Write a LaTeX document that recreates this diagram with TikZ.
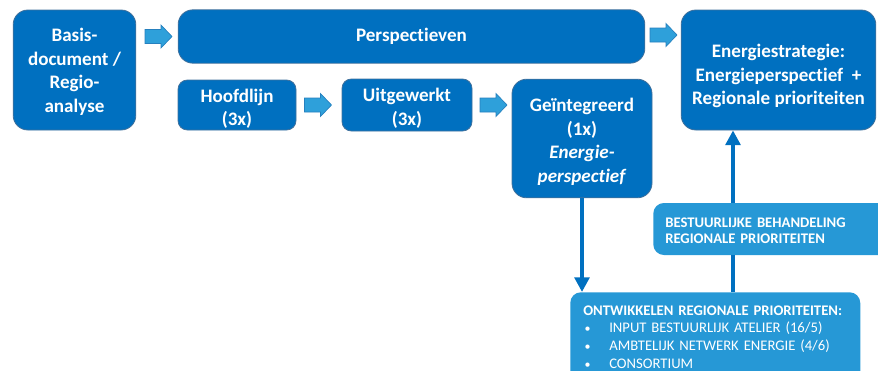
\documentclass[tikz,border=0pt]{standalone}
\usepackage{fontspec}
\setmainfont{Carlito}[Ligatures=NoCommon]
\usetikzlibrary{arrows.meta}

\definecolor{darkblue}{RGB}{0,112,192}
\definecolor{lightblue}{RGB}{38,152,214}
\definecolor{edgeblue}{RGB}{65,113,156}
\definecolor{arrowfill}{RGB}{46,160,218}
\definecolor{arrowedge}{RGB}{38,128,190}

\newcommand{\lowstrut}[1]{\rule{0pt}{#1}}

\tikzset{
  darkbox/.style={fill=darkblue,draw=edgeblue,line width=0.6pt,rounded corners=11pt,
    text=white,font=\bfseries\fontsize{14.3}{17.6}\selectfont,align=center,inner sep=0pt},
  smallbox/.style={darkbox,rounded corners=7pt},
  lightbox/.style={fill=lightblue,draw=none,rounded corners=8pt,text=white,
    font=\fontsize{11}{12.3}\selectfont,align=left,inner xsep=9pt,inner ysep=0pt},
  blockarrow/.pic={
    \filldraw[fill=arrowfill,draw=arrowedge,line width=0.5pt]
      (-13.5,-7) -- (2.5,-7) -- (2.5,-11.5) -- (13.5,0) -- (2.5,11.5) -- (2.5,7) -- (-13.5,7) -- cycle;
  },
  link/.style={draw=darkblue,line width=3pt},
}

\begin{document}
\begin{tikzpicture}[x=0.75pt,y=-0.75pt]
\useasboundingbox (0,0) rectangle (878,371);

\node[darkbox,minimum width=92pt,minimum height=90pt] (basis) at (74.5,70)
  {\lowstrut{13pt}Basis-\\document /\\Regio-\\analyse};
\node[darkbox,minimum width=350pt,minimum height=40pt] (persp) at (411.5,36.5) {Perspectieven};
\node[darkbox,minimum width=146pt,minimum height=90pt] (strategie) at (778.5,70)
  {\lowstrut{19.5pt}Energiestrategie:\\Energieperspectief \ +\\Regionale prioriteiten};

\node[smallbox,minimum width=88.5pt,minimum height=37.5pt] (hoofdlijn) at (237,105) {\lowstrut{15.5pt}Hoofdlijn\\(3x)};
\node[smallbox,minimum width=97.5pt,minimum height=39pt] (uitgewerkt) at (407,105) {\lowstrut{15pt}Uitgewerkt\\(3x)};
\node[darkbox,minimum width=105pt,minimum height=89pt] (geintegreerd) at (582,138.5)
  {\lowstrut{15pt}Geïntegreerd\\(1x)\\\textit{Energie-}\\\textit{perspectief}};

% block arrows
\pic (a1) at (158.5,36.5) {blockarrow};
\pic (a2) at (663.5,35) {blockarrow};
\pic (a3) at (318,105) {blockarrow};
\pic (a4) at (493.5,105) {blockarrow};

\node[lightbox,anchor=west,minimum width=183pt,minimum height=39pt,text width=170pt] (bestuur) at (653,229)
  {\lowstrut{10pt}\textbf{BESTUURLIJKE BEHANDELING}\\\textbf{REGIONALE PRIORITEITEN}};
\node[lightbox,anchor=north west,minimum width=216pt,text width=198pt,
  inner xsep=9.75pt,inner ysep=10pt,font=\fontsize{11}{13.3}\selectfont] (ontwikkelen) at (570,292)
  {\textbf{ONTWIKKELEN REGIONALE PRIORITEITEN:}\\
   \makebox[19.5pt][l]{\hspace{1pt}\small\textbullet}INPUT BESTUURLIJK ATELIER (16/5)\\
   \makebox[19.5pt][l]{\hspace{1pt}\small\textbullet}AMBTELIJK NETWERK ENERGIE (4/6)\\
   \makebox[19.5pt][l]{\hspace{1pt}\small\textbullet}CONSORTIUM};

\coordinate (up) at (733,200);
\draw[link,-{Triangle[width=11pt,length=11pt]}] (geintegreerd.south) -- (ontwikkelen.north -| geintegreerd.south);
\draw[link] (ontwikkelen.north -| up) -- (bestuur.south -| up);
\draw[link,-{Triangle[width=11pt,length=11pt]}] (bestuur.north -| up) -- (strategie.south -| up);

\end{tikzpicture}
\end{document}
